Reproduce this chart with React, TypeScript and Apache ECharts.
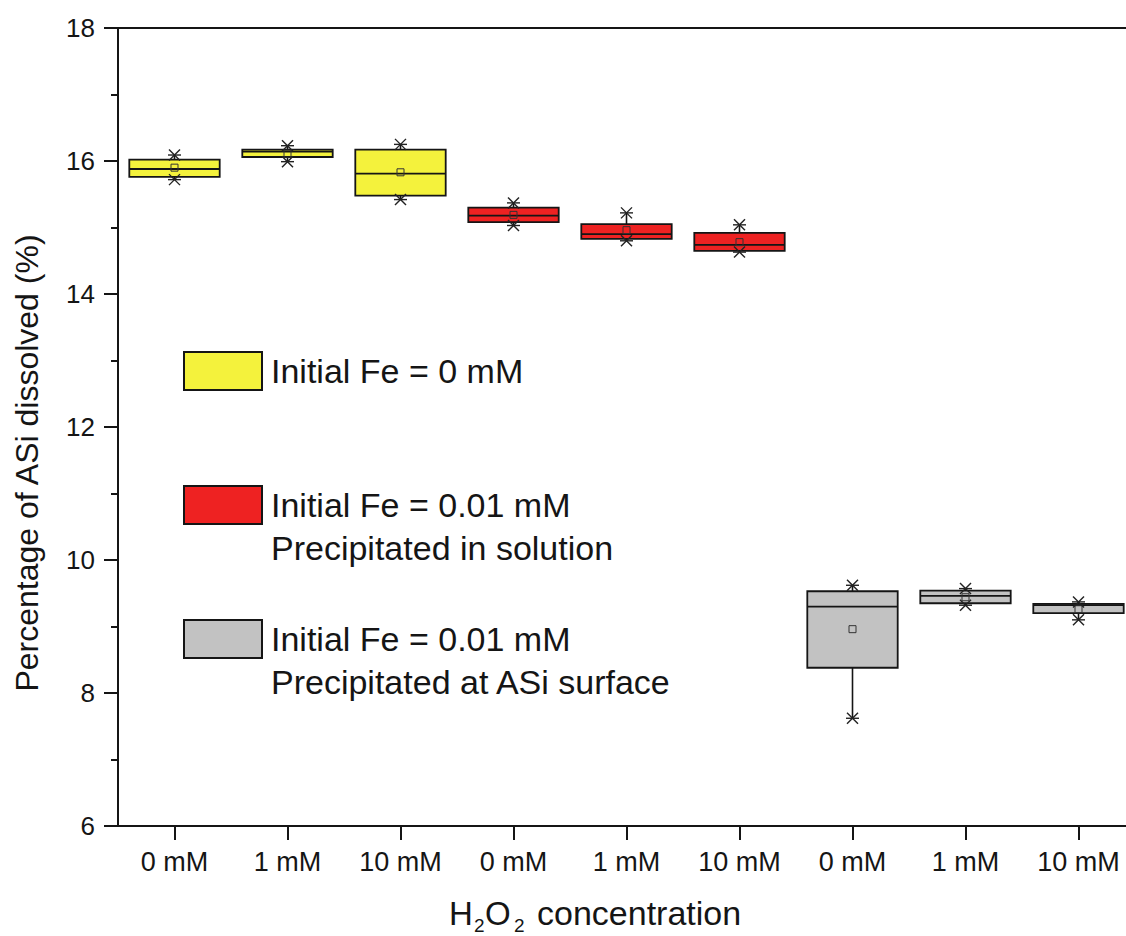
import React, { useEffect, useRef } from 'react';
import * as echarts from 'echarts';

// ---- data ----
const categories = ['0 mM', '1 mM', '10 mM', '0 mM', '1 mM', '10 mM', '0 mM', '1 mM', '10 mM'];
const groupOf = [0, 0, 0, 1, 1, 1, 2, 2, 2];
const minValues = [15.72, 15.99, 15.42, 15.03, 14.80, 14.63, 7.62, 9.32, 9.10];
const q1Values = [15.76, 16.06, 15.48, 15.08, 14.83, 14.65, 8.38, 9.35, 9.20];
const medianValues = [15.88, 16.14, 15.81, 15.18, 14.90, 14.74, 9.30, 9.46, 9.32];
const q3Values = [16.02, 16.17, 16.17, 15.30, 15.05, 14.92, 9.53, 9.54, 9.34];
const maxValues = [16.09, 16.23, 16.25, 15.37, 15.22, 15.04, 9.62, 9.57, 9.37];
const meanValues = [15.90, 16.11, 15.83, 15.19, 14.96, 14.78, 8.96, 9.44, 9.26];
const groupLabels = [
  ['Initial Fe = 0 mM'],
  ['Initial Fe = 0.01 mM', 'Precipitated in solution'],
  ['Initial Fe = 0.01 mM', 'Precipitated at ASi surface'],
];
const groupColors = ['#F4F23C', '#EE2222', '#C2C2C2'];
const yMin = 6;
const yMax = 18;
const yInterval = 2;

const INK = '#151515';
const FONT = 'Liberation Sans, Arial, sans-serif';

function star(x: number, y: number) {
  const s = 5.5;
  const st = { stroke: '#222', lineWidth: 1.4 };
  return [
    { type: 'line', shape: { x1: x - s - 1, y1: y, x2: x + s + 1, y2: y }, style: st },
    { type: 'line', shape: { x1: x - s, y1: y - s, x2: x + s, y2: y + s }, style: st },
    { type: 'line', shape: { x1: x + s, y1: y - s, x2: x - s, y2: y + s }, style: st },
  ];
}

export default function App() {
  const ref = useRef<HTMLDivElement>(null);
  useEffect(() => {
    if (!ref.current) return;
    const chart = echarts.init(ref.current, null, { renderer: 'svg' });

    const data = categories.map((_, i) => [
      i, minValues[i], q1Values[i], medianValues[i], q3Values[i], maxValues[i], meanValues[i],
    ]);

    const legendTops = [352, 486, 620];
    const legendGraphics: any[] = [];
    groupLabels.forEach((lines, g) => {
      const top = legendTops[g];
      legendGraphics.push({
        type: 'rect',
        shape: { x: 184, y: top, width: 78, height: 38 },
        style: { fill: groupColors[g], stroke: INK, lineWidth: 2 },
      });
      lines.forEach((t, k) => {
        legendGraphics.push({
          type: 'text',
          x: 271,
          y: top + 19 + k * 43,
          style: {
            text: t,
            fontSize: 34,
            fontFamily: FONT,
            fill: INK,
            verticalAlign: 'middle',
            align: 'left',
          },
        });
      });
    });

    const option: any = {
      animation: false,
      backgroundColor: '#fff',
      grid: {
        left: 118,
        top: 28,
        right: 5,
        bottom: 110,
        show: true,
        borderColor: INK,
        borderWidth: 2,
        backgroundColor: 'transparent',
      },
      xAxis: {
        type: 'category',
        data: categories,
        axisLine: { show: true, lineStyle: { color: INK, width: 2 } },
        axisTick: { show: true, alignWithLabel: true, length: 14, lineStyle: { color: INK, width: 2 } },
        axisLabel: { fontSize: 27, fontFamily: FONT, color: INK, margin: 22 },
        splitLine: { show: false },
      },
      yAxis: {
        type: 'value',
        min: yMin,
        max: yMax,
        interval: yInterval,
        axisLine: { show: true, lineStyle: { color: INK, width: 2 } },
        axisTick: { show: true, length: 14, lineStyle: { color: INK, width: 2 } },
        minorTick: { show: true, splitNumber: 2, length: 7, lineStyle: { color: INK, width: 2 } },
        axisLabel: { fontSize: 26, fontFamily: FONT, color: INK, margin: 23 },
        splitLine: { show: false },
        minorSplitLine: { show: false },
      },
      series: [
        {
          type: 'custom',
          data,
          encode: { x: 0, y: [1, 2, 3, 4, 5, 6] },
          renderItem: (params: any, api: any) => {
            const idx = api.value(0);
            const g = groupOf[idx];
            const bw = api.size([1, 0])[0] * 0.8;
            const pMin = api.coord([idx, api.value(1)]);
            const pQ1 = api.coord([idx, api.value(2)]);
            const pMed = api.coord([idx, api.value(3)]);
            const pQ3 = api.coord([idx, api.value(4)]);
            const pMax = api.coord([idx, api.value(5)]);
            const pMean = api.coord([idx, api.value(6)]);
            const x = pMin[0];
            const lineSt = { stroke: INK, lineWidth: 1.6 };
            const children: any[] = [
              { type: 'line', shape: { x1: x, y1: pMax[1], x2: x, y2: pQ3[1] }, style: lineSt },
              { type: 'line', shape: { x1: x, y1: pQ1[1], x2: x, y2: pMin[1] }, style: lineSt },
              {
                type: 'rect',
                shape: { x: x - bw / 2, y: pQ3[1], width: bw, height: pQ1[1] - pQ3[1] },
                style: { fill: groupColors[g], stroke: INK, lineWidth: 1.8 },
              },
              {
                type: 'line',
                shape: { x1: x - bw / 2, y1: pMed[1], x2: x + bw / 2, y2: pMed[1] },
                style: { stroke: INK, lineWidth: 1.8 },
              },
              {
                type: 'rect',
                shape: { x: x - 3.5, y: pMean[1] - 3.5, width: 7, height: 7 },
                style: { fill: 'none', stroke: '#333', lineWidth: 1 },
              },
              ...star(x, pMax[1]),
              ...star(x, pMin[1]),
            ];
            return { type: 'group', children };
          },
        },
      ],
      graphic: [
        ...legendGraphics,
        {
          type: 'text',
          x: 27,
          y: 463,
          rotation: Math.PI / 2,
          style: {
            text: 'Percentage of ASi dissolved (%)',
            fontSize: 32,
            fontFamily: FONT,
            fill: INK,
            align: 'center',
            verticalAlign: 'middle',
          },
        },
        { type: 'text', x: 449, y: 913, style: { text: 'H', fontSize: 33, fontFamily: FONT, fill: INK, verticalAlign: 'middle' } },
        { type: 'text', x: 474, y: 925, style: { text: '2', fontSize: 19, fontFamily: FONT, fill: INK, verticalAlign: 'middle' } },
        { type: 'text', x: 485, y: 913, style: { text: 'O', fontSize: 33, fontFamily: FONT, fill: INK, verticalAlign: 'middle' } },
        { type: 'text', x: 514, y: 925, style: { text: '2', fontSize: 19, fontFamily: FONT, fill: INK, verticalAlign: 'middle' } },
        { type: 'text', x: 537, y: 913, style: { text: 'concentration', fontSize: 34, fontFamily: FONT, fill: INK, verticalAlign: 'middle' } },
      ],
    };
    chart.setOption(option);
    return () => chart.dispose();
  }, []);

  return (
    <div style={{ position: 'fixed', left: 0, top: 0, width: 1126, height: 936, overflow: 'hidden', background: '#fff' }}>
      <div ref={ref} style={{ width: 1140, height: 936 }} />
    </div>
  );
}
